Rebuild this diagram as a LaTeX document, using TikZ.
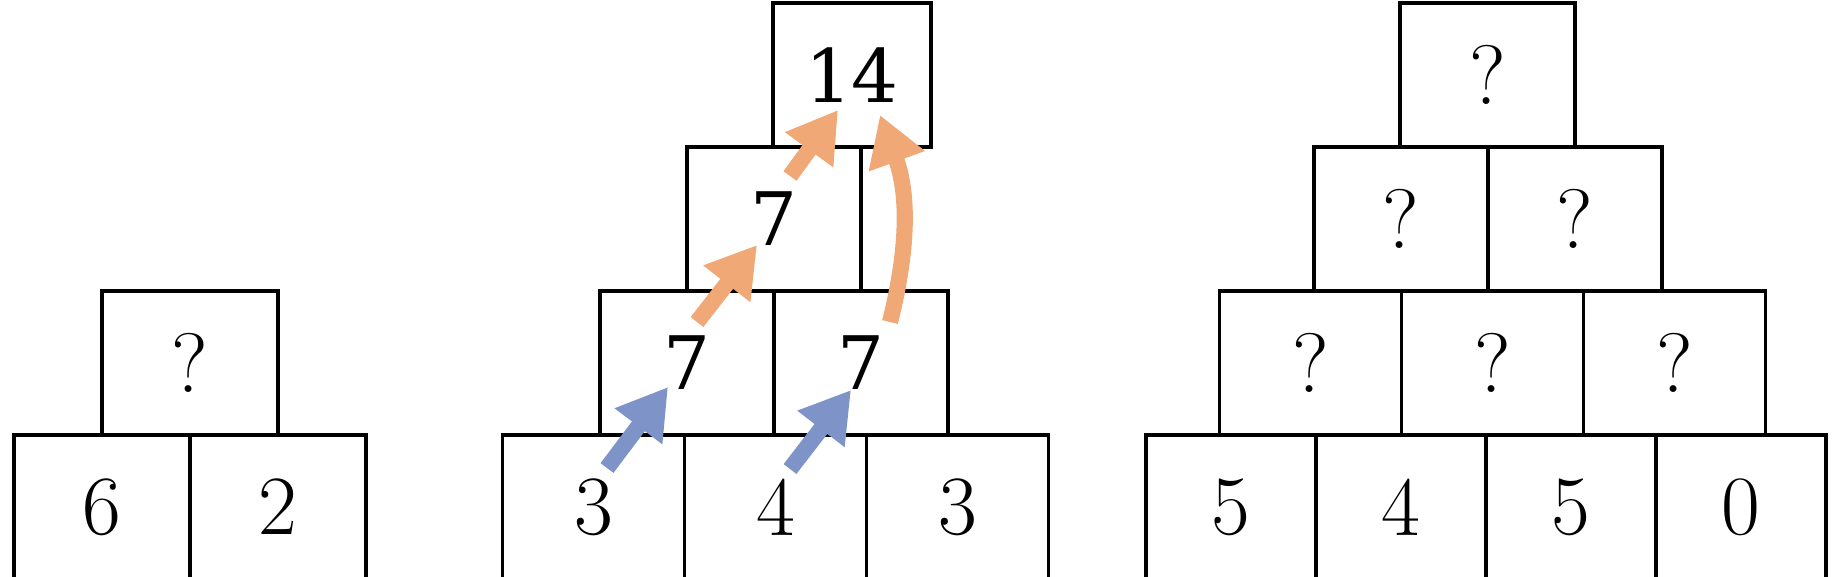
\documentclass[tikz,border=0pt]{standalone}
\usepackage{fontspec}
\usepackage{tikz}
\usetikzlibrary{shapes, arrows.meta, positioning}
\newfontfamily\heavyserif{DejaVu Serif}
\definecolor{arrowblue}{RGB}{126,147,199}
\definecolor{arroworange}{RGB}{240,168,118}

\begin{document}
\begin{tikzpicture}[on grid,node distance=1.44cm and 1.76cm,
		cell/.style={draw, line width=1pt, minimum width=#1, minimum height=1.44cm, inner sep=0pt, font=\fontsize{24}{28}\selectfont},
		cell/.default=1.76cm,
		sum/.style={font=\fontsize{21}{26}\selectfont\heavyserif},
		bluearrow/.style={line width=4.6pt, color=arrowblue, -{Triangle[length=14pt,width=16pt]}},
		orangearrow/.style={line width=4.6pt, color=arroworange, -{Triangle[length=14pt,width=16pt]}}]
			\useasboundingbox (0,0) rectangle (18.42,5.76);
			% left pyramid
			\node[cell] (l1) at (1.02,0.69) {6};
			\node[cell] (l2) [right=of l1] {2};
			\node[cell] (l3) [above right=1.44cm and .88cm of l1] {?};
			% middle pyramid
			\node[cell=1.82cm] (m1) at (5.935,0.69) {3};
			\node[cell=1.82cm] (m2) [right=1.82cm of m1] {4};
			\node[cell=1.82cm] (m3) [right=1.82cm of m2] {3};
			\node[cell=1.74cm, sum] (m4) [above right=1.44cm and .935cm of m1] {7};
			\node[cell=1.74cm, sum] (m5) [right=1.74cm of m4] {7};
			\node[cell=1.74cm, sum] (m6) [above right=1.44cm and .87cm of m4] {7};
			\node[cell=1.58cm, sum] (m7) [above right=1.44cm and .78cm of m6] {14};
			% right pyramid
			\node[cell=1.70cm] (r1) at (12.31,0.69) {5};
			\node[cell=1.70cm] (r2) [right=1.70cm of r1] {4};
			\node[cell=1.70cm] (r3) [right=1.70cm of r2] {5};
			\node[cell=1.70cm] (r4) [right=1.70cm of r3] {0};
			\node[cell=1.82cm] (r5) [above right=1.44cm and .795cm of r1] {?};
			\node[cell=1.82cm] (r6) [right=1.82cm of r5] {?};
			\node[cell=1.82cm] (r7) [right=1.82cm of r6] {?};
			\node[cell=1.74cm] (r8) [above right=1.44cm and .905cm of r5] {?};
			\node[cell=1.74cm] (r9) [right=1.74cm of r8] {?};
			\node[cell=1.75cm] (r10) [above right=1.44cm and .865cm of r8] {?};
			\path[bluearrow]
				([shift={(.135,.39)}]m1.center) edge ([shift={(-.19,-.24)}]m4.center)
				([shift={(.145,.38)}]m2.center) edge ([shift={(-.10,-.27)}]m5.center);
			\path[orangearrow]
				([shift={(.10,.41)}]m4.center) edge ([shift={(-.17,-.26)}]m6.center)
				([shift={(.16,.43)}]m6.center) edge ([shift={(-.14,-.35)}]m7.center)
				([shift={(.29,.41)}]m5.center) edge [out=76, in=-70] ([shift={(.28,-.40)}]m7.center);
		\end{tikzpicture}
\end{document}
